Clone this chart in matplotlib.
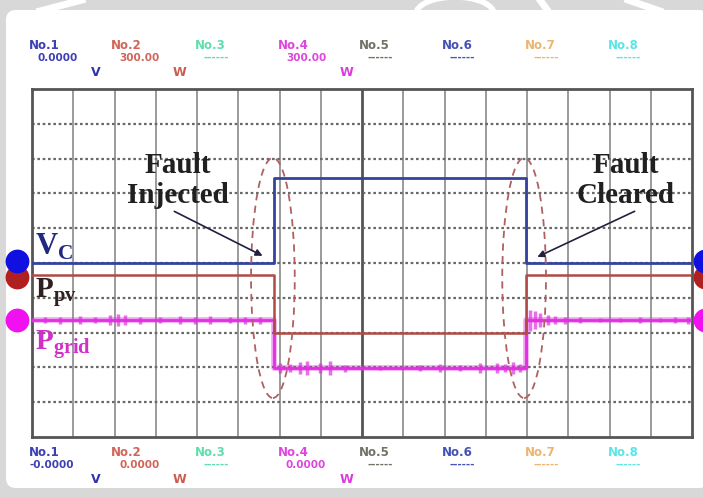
import matplotlib
matplotlib.use('Agg')
import matplotlib.pyplot as plt
from matplotlib.patches import Ellipse, FancyBboxPatch

plt.rcParams['mathtext.fontset'] = 'custom'
plt.rcParams['mathtext.bf'] = 'Liberation Serif:bold'
plt.rcParams['mathtext.rm'] = 'Liberation Serif'

W, H = 703, 498

# 파형 데이터 (단위: 눈금 칸, 가로 0~16, 세로 -5~5)
t_fault_on = 5.87
t_fault_off = 11.98
vc_levels = [0.0, 2.44]        # 정상, 고장 중
ppv_levels = [-0.34, -2.0]
pgrid_levels = [-1.64, -3.02]

# Pgrid 잡음 (위치, 진폭)
noise_t = [0.32, 0.68, 1.16, 1.53, 1.89, 2.08, 2.25, 2.62, 3.10, 3.59, 3.95, 4.31, 4.80, 5.16, 5.53,
           6.01, 6.25, 6.50, 6.67, 6.98, 7.22, 7.59, 8.44, 9.41, 9.89, 10.38, 10.86, 11.27, 11.47, 11.66, 11.83,
           12.07, 12.19, 12.31, 12.51, 12.68, 12.92, 13.28, 13.77, 14.25, 14.74, 15.22, 15.59, 15.90]
noise_amp = [0.08, 0.10, 0.12, 0.08, 0.15, 0.18, 0.15, 0.10, 0.08, 0.12, 0.10, 0.12, 0.08, 0.10, 0.10,
             0.15, 0.12, 0.18, 0.20, 0.15, 0.20, 0.10, 0.06, 0.08, 0.12, 0.08, 0.15, 0.15, 0.12, 0.18, 0.12,
             0.30, 0.25, 0.20, 0.15, 0.12, 0.10, 0.08, 0.06, 0.06, 0.08, 0.06, 0.08, 0.10]

# 채널 표시
ch_names = ['No.1', 'No.2', 'No.3', 'No.4', 'No.5', 'No.6', 'No.7', 'No.8']
ch_colors = ['#1c1ca8', '#c84a3c', '#44d8a0', '#d826d8', '#585848', '#2434a8', '#e8a858', '#40e0e0']
top_values = ['0.0000', '300.00', '------', '300.00', '------', '------', '------', '------']
bot_values = ['-0.0000', '0.0000', '------', '0.0000', '------', '------', '------', '------']
units = ['V', 'W', '', 'W', '', '', '', '']

c_vc = '#34449e'
c_ppv = '#b04a44'
c_pgrid = '#e030e0'

fig = plt.figure(figsize=(W / 100, H / 100), dpi=100, facecolor='#d8d8d8')

# 배경 (픽셀 좌표)
bg = fig.add_axes([0, 0, 1, 1])
bg.set_xlim(0, W)
bg.set_ylim(H, 0)
bg.axis('off')
bg.add_patch(FancyBboxPatch((6, 10), W, 478, boxstyle='round,pad=0,rounding_size=10',
                            fc='white', ec='none'))
bg.plot([40, 82], [11, 0], color='white', lw=5)
bg.plot([540, 548], [0, 11], color='white', lw=5)
bg.plot([628, 660], [0, 11], color='white', lw=5)
bg.add_patch(Ellipse((455, 14), 78, 34, fc='none', ec='white', lw=4))

ch_x = [29, 111, 195, 278, 359, 442, 525, 608]
for x, name, col, tv, bv, u in zip(ch_x, ch_names, ch_colors, top_values, bot_values, units):
    for y0, val in [(45, tv), (452, bv)]:
        bg.text(x, y0, name, color=col, fontsize=8.5, fontweight='bold', va='center', alpha=0.85)
        bg.text(x + 8 if not val.startswith('-0') else x, y0 + 13, val, color=col, fontsize=7.5,
                fontweight='bold', va='center', alpha=0.85)
        if u:
            bg.text(x + 62, y0 + 27, u, color=col, fontsize=9, fontweight='bold', va='center', alpha=0.9)

# 오실로스코프 화면
ax = fig.add_axes([32 / W, 1 - 437 / H, 660 / W, 348 / H])
ax.set_xlim(0, 16)
ax.set_ylim(-5, 5)
ax.set_facecolor('white')
for i in range(1, 16):
    ax.axvline(i, color='#555555' if i == 8 else '#8a8a8a', lw=2 if i == 8 else 1.2, zorder=1)
for j in range(-4, 5):
    ax.axhline(j, color='#6a6a6a', lw=1.6, ls=(0, (1.2, 1.2)), zorder=1)
for s in ax.spines.values():
    s.set_color('#555555')
    s.set_linewidth(2)
ax.set_xticks([])
ax.set_yticks([])


def step(levels):
    xs = [0, t_fault_on, t_fault_on, t_fault_off, t_fault_off, 16]
    ys = [levels[0], levels[0], levels[1], levels[1], levels[0], levels[0]]
    return xs, ys


ax.plot(*step(pgrid_levels), color=c_pgrid, lw=4, alpha=0.45, zorder=3)
ax.plot(*step(pgrid_levels), color=c_pgrid, lw=2, zorder=3)
nlev = [pgrid_levels[1] if t_fault_on < t < t_fault_off else pgrid_levels[0] for t in noise_t]
ax.vlines(noise_t, [l - a for l, a in zip(nlev, noise_amp)], [l + a for l, a in zip(nlev, noise_amp)],
          color=c_pgrid, lw=2.5, alpha=0.7, zorder=3)
ax.plot(*step(ppv_levels), color=c_ppv, lw=1.8, zorder=4)
ax.plot(*step(vc_levels), color=c_vc, lw=2, zorder=5)

# 고장 구간 표시
for tc in [t_fault_on - 0.03, t_fault_off - 0.05]:
    ax.add_patch(Ellipse((tc, -0.43), 1.06, 6.9, fc='none', ec='#b06060', lw=1.3, ls=(0, (4, 3)), zorder=6))

# 채널 마커
for xm in [-0.36, 16.32]:
    ax.scatter([xm], [ppv_levels[0] - 0.05], s=260, color='#b02020', clip_on=False, zorder=7)
    ax.scatter([xm], [vc_levels[0] + 0.05], s=260, color='#1010e0', clip_on=False, zorder=8)
    ax.scatter([xm], [pgrid_levels[0]], s=260, color='#f010f0', clip_on=False, zorder=8)

serif = dict(family='Liberation Serif', fontweight='bold', fontsize=21)
ax.text(0.07, 0.45, r'$\mathbf{V}_{\mathbf{C}}$', color='#202880', fontsize=22, va='center', zorder=9)
ax.text(0.07, -0.86, r'$\mathbf{P}_{\mathbf{pv}}$', color='#302020', fontsize=21, va='center', zorder=9)
ax.text(0.07, -2.36, r'$\mathbf{P}_{\mathbf{grid}}$', color='#d030c8', fontsize=21, va='center', zorder=9)

ax.text(3.54, 2.38, 'Fault\nInjected', ha='center', va='center', linespacing=1.15, color='#202020',
        zorder=9, **serif)
ax.text(14.4, 2.38, 'Fault\nCleared', ha='center', va='center', linespacing=1.15, color='#202020',
        zorder=9, **serif)
ax.annotate('', xy=(5.65, 0.17), xytext=(3.39, 1.52),
            arrowprops=dict(arrowstyle='-|>', color='#202040', lw=1.2, mutation_scale=10), zorder=9)
ax.annotate('', xy=(12.19, 0.14), xytext=(14.67, 1.52),
            arrowprops=dict(arrowstyle='-|>', color='#202040', lw=1.2, mutation_scale=10), zorder=9)

fig.savefig('out.png', dpi=100, facecolor=fig.get_facecolor())
